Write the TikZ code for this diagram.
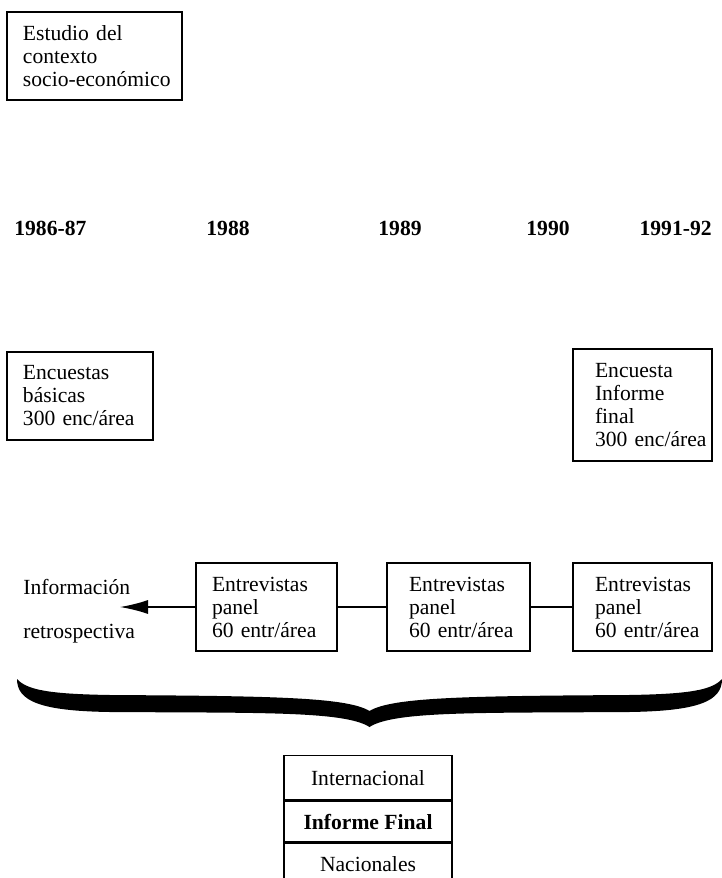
\documentclass[tikz,border=0pt]{standalone}
\usepackage{fontspec}
\setmainfont{Liberation Serif}
\usetikzlibrary{arrows.meta, positioning}
\newcommand\diagfont{\fontsize{10.8}{11.5}\selectfont}

\begin{document}
\begin{tikzpicture}[x=0.5pt,y=-0.5pt,font=\diagfont,
    box/.style={draw,line width=0.7pt,align=left,inner ysep=0pt,font=\diagfont},
    year/.style={inner sep=0pt,font=\diagfont\bfseries},
    row/.style={draw,line width=0.7pt,minimum width=84pt,inner sep=0pt,font=\diagfont},
    link/.style={line width=0.7pt}]
    \useasboundingbox (0,0) rectangle (722,878);

    % top box and years
    \node[box,minimum height=44pt,inner xsep=8pt,text width=71.5pt] (estudio) at (94.5,56) {Estudio~del\\contexto\\\mbox{socio-económico}};
    \node[year,anchor=west] (y1) at (14,228) {1986-87};
    \node[year] (y2) at (228,228) {1988};
    \node[year] (y3) at (400,228) {1989};
    \node[year] (y4) at (548,228) {1990};
    \node[year,anchor=east] (y5) at (712,228) {1991-92};

    % surveys
    \node[box,minimum height=44pt,inner xsep=8pt,text width=57pt] (basicas) at (80,396) {Encuestas\\básicas\\300~enc/área};
    \node[box,minimum height=56pt,inner xsep=11pt,text width=47.5pt] (final) at (642.5,405) {Encuesta\\Informe\\final\\300~enc/área};

    % panel interviews
    \node[box,minimum height=44pt,inner xsep=8pt,text width=54.5pt] (panelA) at (266.5,607) {Entrevistas\\panel\\60~entr/área};
    \node[box,minimum height=44pt,inner xsep=11pt,text width=49.5pt] (panelB) at (458.5,607) {Entrevistas\\panel\\60~entr/área};
    \node[box,minimum height=44pt,inner xsep=11pt,text width=47.5pt] (panelC) at (642.5,607) {Entrevistas\\panel\\60~entr/área};
    \node[anchor=west,inner sep=0pt] (info) at (23,587) {Información};
    \node[anchor=west,inner sep=0pt] (retro) at (23,634) {retrospectiva};
    \coordinate (tip) at (120,607);

    \draw[link,-{Latex[length=14pt,width=7pt]}] (panelA.west) -- (tip);
    \draw[link] (panelA) -- (panelB);
    \draw[link] (panelB) -- (panelC);

    % brace
    \fill (17,679) .. controls (17,701) and (40,711) .. (110,712)
      .. controls (260,713) and (345,711) .. (369.5,727)
      .. controls (394,711) and (479,713) .. (629,712)
      .. controls (699,711) and (722,701) .. (722,679)
      .. controls (712,690) and (690,694) .. (629,695)
      .. controls (470,696) and (392,697) .. (369.5,711)
      .. controls (347,697) and (269,696) .. (110,695)
      .. controls (49,694) and (27,690) .. (17,679) -- cycle;

    % final report
    \node[row,minimum height=22pt,anchor=north] (intl) at (368,755) {Internacional};
    \node[row,minimum height=20.5pt,font=\diagfont\bfseries,below=0pt of intl] (informe) {Informe Final};
    \node[row,minimum height=20.5pt,below=0pt of informe] (nac) {Nacionales};
\end{tikzpicture}
\end{document}
